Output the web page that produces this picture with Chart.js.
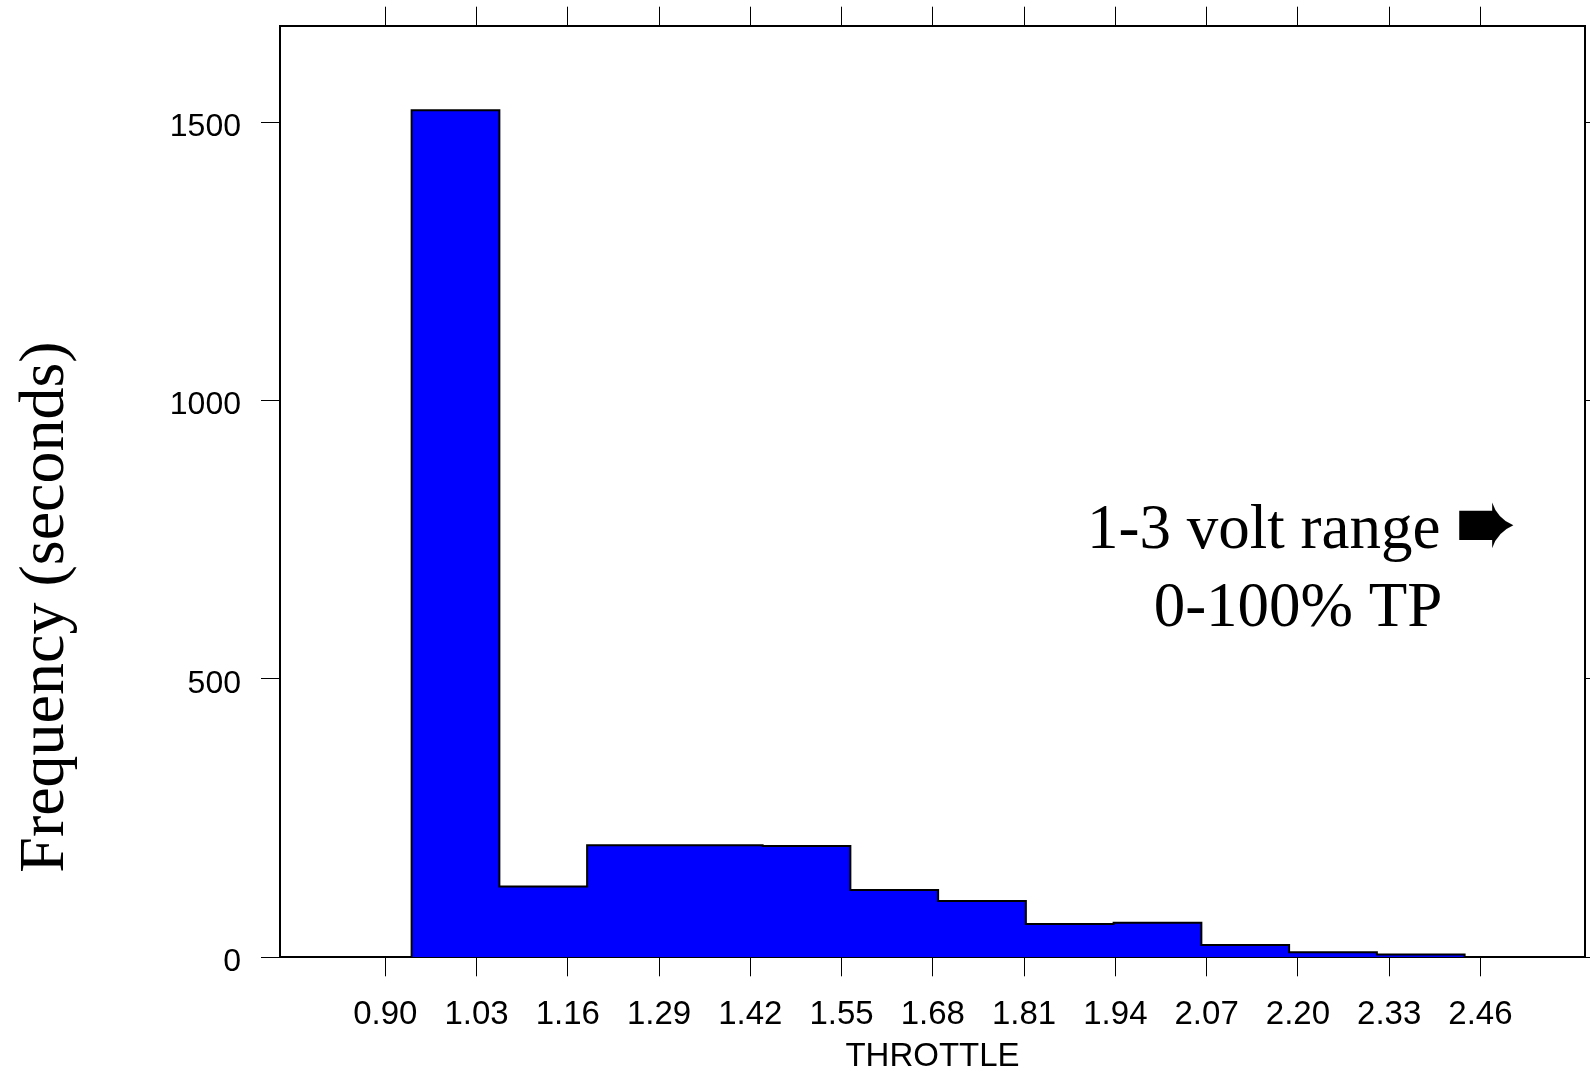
<!DOCTYPE html>
<html>
<head>
<meta charset="utf-8">
<script src="https://cdn.jsdelivr.net/npm/chart.js@4/dist/chart.umd.min.js"></script>
<style>
  html, body { margin: 0; padding: 0; background: #ffffff; }
  #wrap { width: 1590px; height: 1072px; position: relative; }
</style>
</head>
<body>
<div id="wrap"><canvas id="c"></canvas></div>
<script>
// ---- data ----
const binEdges = [0.9375, 1.0625, 1.1875, 1.3125, 1.4375, 1.5625, 1.6875, 1.8125, 1.9375, 2.0625, 2.1875, 2.3125, 2.4375];
const binCounts = [1521, 127, 201, 201, 200, 121, 101, 60, 62, 22, 9, 5];
const xTickLabels = ['0.90', '1.03', '1.16', '1.29', '1.42', '1.55', '1.68', '1.81', '1.94', '2.07', '2.20', '2.33', '2.46'];
const yTickValues = [0, 500, 1000, 1500];
const xRange = [0.75, 2.609];
const yRange = [0, 1673];
const xTitle = 'THROTTLE';
const yTitle = 'Frequency (seconds)';
const noteLines = ['1-3 volt range', '0-100% TP'];
const noteArrow = '\u27A8';

// ---- build the step outline (histogram) ----
const stepPoints = [{ x: xRange[0], y: 0 }];
binCounts.forEach((c, i) => stepPoints.push({ x: binEdges[i], y: c }));
stepPoints.push({ x: binEdges[binEdges.length - 1], y: 0 });
stepPoints.push({ x: xRange[1], y: 0 });

const sans = '"Liberation Sans", Arial, sans-serif';
const serif = '"Liberation Serif", "Times New Roman", serif';

const gridOpts = { display: true, drawOnChartArea: false, drawTicks: true, tickLength: 19, color: '#000000', lineWidth: 1 };
const borderOpts = { display: true, color: '#000000', width: 2 };
const xTicksBuild = s => { s.ticks = xTickLabels.map(v => ({ value: parseFloat(v) })); };
const yTicksBuild = s => { s.ticks = yTickValues.map(v => ({ value: v })); };
const noPad = s => { s.paddingTop = 0; s.paddingBottom = 0; s.paddingLeft = 0; s.paddingRight = 0; };

const notesPlugin = {
  id: 'notes',
  afterDraw(chart) {
    const ctx = chart.ctx;
    ctx.save();
    ctx.fillStyle = '#000000';
    // y axis title
    ctx.save();
    ctx.translate(46, 607);
    ctx.rotate(-Math.PI / 2);
    ctx.font = '64px ' + serif;
    ctx.textAlign = 'center';
    ctx.textBaseline = 'middle';
    ctx.fillText(yTitle, 0, 0);
    ctx.restore();
    // annotation
    ctx.font = '63px ' + serif;
    ctx.textBaseline = 'alphabetic';
    ctx.textAlign = 'left';
    ctx.fillText(noteLines[0], 1087, 548);
    ctx.textAlign = 'center';
    ctx.fillText(noteLines[1], 1298, 626);
    ctx.save();
    ctx.translate(1486, 531);
    ctx.scale(1, 1.45);
    ctx.font = '74px "DejaVu Sans", sans-serif';
    ctx.textBaseline = 'middle';
    ctx.textAlign = 'center';
    ctx.fillText(noteArrow, 0, 0);
    ctx.restore();
    ctx.restore();
  }
};

new Chart(document.getElementById('c'), {
  type: 'line',
  data: {
    datasets: [{
      data: stepPoints,
      stepped: 'before',
      borderColor: '#000000',
      borderWidth: 2,
      backgroundColor: '#0000ff',
      fill: 'origin',
      pointRadius: 0,
      tension: 0
    }]
  },
  options: {
    responsive: true,
    maintainAspectRatio: false,
    animation: false,
    layout: { padding: 0 },
    plugins: { legend: { display: false }, tooltip: { enabled: false } },
    scales: {
      x: {
        type: 'linear', position: 'bottom', min: xRange[0], max: xRange[1],
        afterBuildTicks: xTicksBuild,
        afterFit: s => { s.height = 114.7; noPad(s); },
        ticks: { autoSkip: false, maxRotation: 0, padding: 19, color: '#000000',
                 font: { family: sans, size: 33 },
                 callback: (v, i) => xTickLabels[i] },
        grid: gridOpts, border: borderOpts,
        title: { display: true, text: xTitle, color: '#000000',
                 font: { family: sans, size: 33, lineHeight: 0.9 }, padding: { top: 0, bottom: 0 } }
      },
      xTop: {
        type: 'linear', position: 'top', min: xRange[0], max: xRange[1],
        afterBuildTicks: xTicksBuild,
        afterFit: s => { s.height = 25.7; noPad(s); },
        ticks: { display: false },
        grid: gridOpts, border: borderOpts
      },
      y: {
        type: 'linear', position: 'left', min: yRange[0], max: yRange[1],
        afterBuildTicks: yTicksBuild,
        afterFit: s => { s.width = 280; noPad(s); },
        ticks: { padding: 20, labelOffset: 5, color: '#000000', font: { family: sans, size: 32 },
                 callback: v => String(v) },
        grid: gridOpts, border: borderOpts
      },
      y2: {
        type: 'linear', position: 'right', min: yRange[0], max: yRange[1],
        afterBuildTicks: yTicksBuild,
        afterFit: s => { s.width = 5; noPad(s); },
        ticks: { display: false },
        grid: gridOpts, border: borderOpts
      }
    }
  },
  plugins: [notesPlugin]
});
</script>
</body>
</html>
